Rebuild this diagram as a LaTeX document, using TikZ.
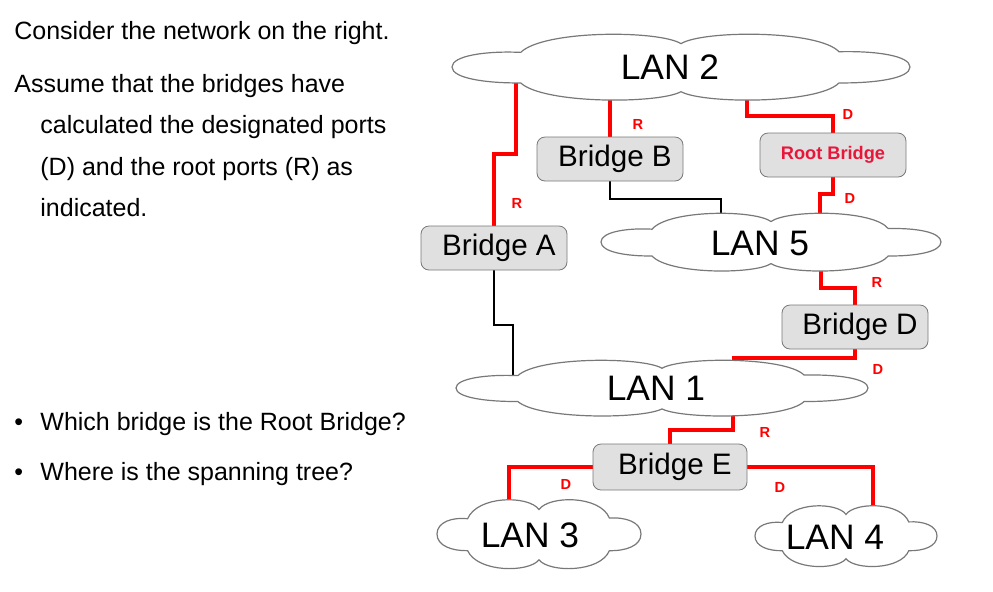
\documentclass[tikz,border=0pt]{standalone}
\usepackage{fontspec}
\setmainfont{Liberation Sans}
\usetikzlibrary{positioning,calc,backgrounds}
\definecolor{LinkRed}{RGB}{255,0,0}
\definecolor{RootRed}{RGB}{232,22,58}
\definecolor{BoxGray}{RGB}{224,224,224}
\definecolor{EdgeGray}{RGB}{120,120,120}

\tikzset{
lancloud/.pic={
\path[draw=EdgeGray, fill=white, line width=0.6pt]
(-1,0) .. controls (-1,-0.35) and (-0.85,-0.5) .. (-0.70,-0.45)
.. controls (-0.6,-1.14) and (-0.1,-1.14) .. (0,-0.72)
.. controls (0.1,-1.14) and (0.6,-1.14) .. (0.69,-0.47)
.. controls (0.85,-0.5) and (1,-0.35) .. (1,0)
.. controls (1,0.35) and (0.85,0.5) .. (0.69,0.49)
.. controls (0.6,1.14) and (0.1,1.14) .. (0,0.76)
.. controls (-0.1,1.14) and (-0.6,1.14) .. (-0.70,0.49)
.. controls (-0.85,0.5) and (-1,0.35) .. (-1,0) -- cycle;
}
}

\begin{document}
\begin{tikzpicture}[
x=0.5pt, y=-0.5pt,
lan/.style={inner sep=0pt, font=\fontsize{17.7}{20}\selectfont},
rootbox/.style={draw=EdgeGray, fill=BoxGray, rounded corners=4pt, minimum width=73pt, minimum height=22pt, inner sep=1pt, font=\fontsize{9.1}{10}\selectfont\bfseries, text=RootRed},
bridge/.style={rootbox, font=\fontsize{14.8}{17}\selectfont, text=black, execute at begin node=\hspace*{5pt}},
tree/.style={draw=LinkRed, line width=2pt},
wire/.style={draw=black, line width=1pt},
port/.style={text=LinkRed, font=\fontsize{7.3}{8}\selectfont\bfseries, inner sep=0pt},
txt/.style={anchor=base west, inner sep=0pt, font=\fontsize{12.5}{15}\selectfont}
]
\useasboundingbox (0,0) rectangle (993,591);

% left column
\node[txt] (t1) at (14,39) {Consider the network on the right.};
\node[txt] (t2) at (14,92) {Assume that the bridges have};
\node[txt] (t3) at (40,133) {calculated the designated ports};
\node[txt] (t4) at (40,175) {(D) and the root ports (R) as};
\node[txt] (t5) at (40,216) {indicated.};
\node[txt] (b1) at (14,430) {\textbullet};
\node[txt] (q1) at (40,430) {Which bridge is the Root Bridge?};
\node[txt] (b2) at (14,480) {\textbullet};
\node[txt] (q2) at (40,480) {Where is the spanning tree?};

% LANs (labels, clouds go on the background)
\node[lan] (lanii) at (670,67) {LAN 2};
\node[lan] (lanv) at (760,243) {LAN 5};
\node[lan] (lani) at (656,388) {LAN 1};
\node[lan] (laniii) at (530,535) {LAN 3};
\node[lan] (laniv) at (835,537) {LAN 4};

% bridges
\node[bridge] (brb) at (610,159) {Bridge B};
\node[rootbox] (brroot) at (833,155) {Root Bridge};
\node[bridge] (bra) at (494,248) {Bridge A};
\node[bridge] (brd) at (855,327) {Bridge D};
\node[bridge, minimum width=77pt, minimum height=23pt] (bre) at (670,467) {Bridge E};

% ports
\node[port] (pa) at (517,203) {R};
\node[port] (pb) at (638,124) {R};
\node[port] (prootu) at (848,114) {D};
\node[port] (prootl) at (850,198) {D};
\node[port] (pdu) at (877,282) {R};
\node[port] (pdl) at (878,369) {D};
\node[port] (peu) at (765,432) {R};
\node[port] (pel) at (566,484) {D};
\node[port] (per) at (780,487) {D};

\begin{scope}[on background layer]
\draw[tree] ($(lanii)+(-154,0)$) |- ($(bra)+(0,-94)$) -- (bra);
\draw[tree] (brb) -- (brb |- lanii);
\draw[tree] ($(lanii)+(77,0)$) |- ($(brroot)+(0,-39)$) -- (brroot);
\draw[tree] (brroot) -- ++(0,39) -| ($(lanv)+(60,0)$);
\draw[wire] (brb) -- ++(0,40) -| ($(lanv)+(-39,0)$);
\draw[tree] ($(lanv)+(61,0)$) |- ($(brd)+(0,-39)$) -- (brd);
\draw[wire] (bra) -- ++(0,77) -| ($(lani)+(-143,0)$);
\draw[tree] (brd) -- ++(0,31) -| ($(lani)+(78,0)$);
\draw[tree] ($(lani)+(77,0)$) |- ($(bre)+(0,-37)$) -- (bre);
\draw[tree] (bre) -| ($(laniii)+(-21,0)$);
\draw[tree] (bre) -| ($(laniv)+(38,0)$);
% clouds
\pic[xscale=229, yscale=32.5] at ($(lanii)+(11,0)$) {lancloud};
\pic[xscale=170, yscale=28.5] at ($(lanv)+(11,-1)$) {lancloud};
\pic[xscale=206, yscale=27.5] at ($(lani)+(6,0)$) {lancloud};
\pic[xscale=102, yscale=34] at ($(laniii)+(9,-1)$) {lancloud};
\pic[xscale=91, yscale=30] at ($(laniv)+(11,-1)$) {lancloud};
\end{scope}
\end{tikzpicture}
\end{document}
